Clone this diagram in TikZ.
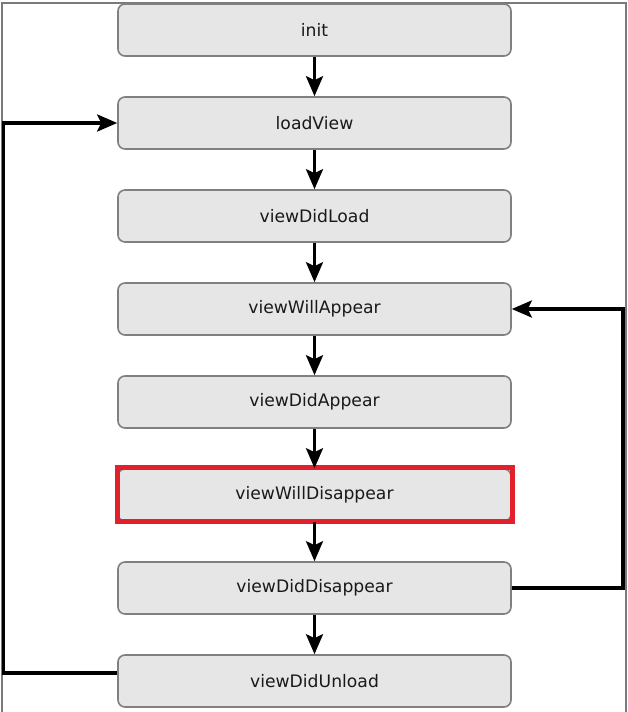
\documentclass[tikz,border=0pt]{standalone}
\usepackage{fontspec}
\setmainfont{DejaVu Sans}
\usetikzlibrary{arrows.meta,positioning}
\definecolor{boxfill}{HTML}{E6E6E6}
\definecolor{boxline}{HTML}{808080}
\definecolor{hilite}{HTML}{E2202B}
\definecolor{framegray}{HTML}{7A7A7A}
\tikzset{
  stage/.style={draw=boxline, line width=1.6pt, fill=boxfill, rounded corners=7pt,
    minimum width=393pt, minimum height=52pt, inner sep=0pt,
    font=\fontsize{17.2}{20}\selectfont, text=black!90},
  tip/.style={-{Stealth[length=20pt,width=17pt,inset=4pt]}},
  flow/.style={tip, line width=3.2pt},
  back/.style={tip, line width=3.4pt},
  hiframe/.style={draw=hilite, line width=4.8pt},
  edge/.style={draw=framegray, line width=1.3pt}
}
\begin{document}
\begin{tikzpicture}[x=1pt,y=-1pt]
  \useasboundingbox (0,0) rectangle (627,712);
  % outer frame
  \draw[edge] (2,712) -- (2,3) -- (626,3) -- (626,712);

  % lifecycle stages
  \node[stage] (init)    at (314.5,30)  {init};
  \node[stage] (load)    at (314.5,123) {loadView};
  \node[stage] (didload) at (314.5,216) {viewDidLoad};
  \node[stage] (willapp) at (314.5,309) {viewWillAppear};
  \node[stage] (didapp)  at (314.5,402) {viewDidAppear};
  \node[stage] (willdis) at (314.5,495) {viewWillDisappear};
  \node[stage] (diddis)  at (314.5,588) {viewDidDisappear};
  \node[stage] (unload)  at (314.5,681) {viewDidUnload};

  % highlighted stage
  \draw[hiframe] (117.5,467.5) rectangle (512.5,521.5);

  % main sequence
  \draw[flow] (init)    -- (load);
  \draw[flow] (load)    -- (didload);
  \draw[flow] (didload) -- (willapp);
  \draw[flow] (willapp) -- (didapp);
  \draw[flow] (didapp)  -- (willdis);
  \draw[flow] (willdis) -- (diddis);
  \draw[flow] (diddis)  -- (unload);

  % loops back
  \draw[back] ([yshift=8pt]unload.west) -- ++(-113.5,0) |- (load.west);
  \draw[back] (diddis.east) -- ++(111,0) |- (willapp.east);
\end{tikzpicture}
\end{document}
